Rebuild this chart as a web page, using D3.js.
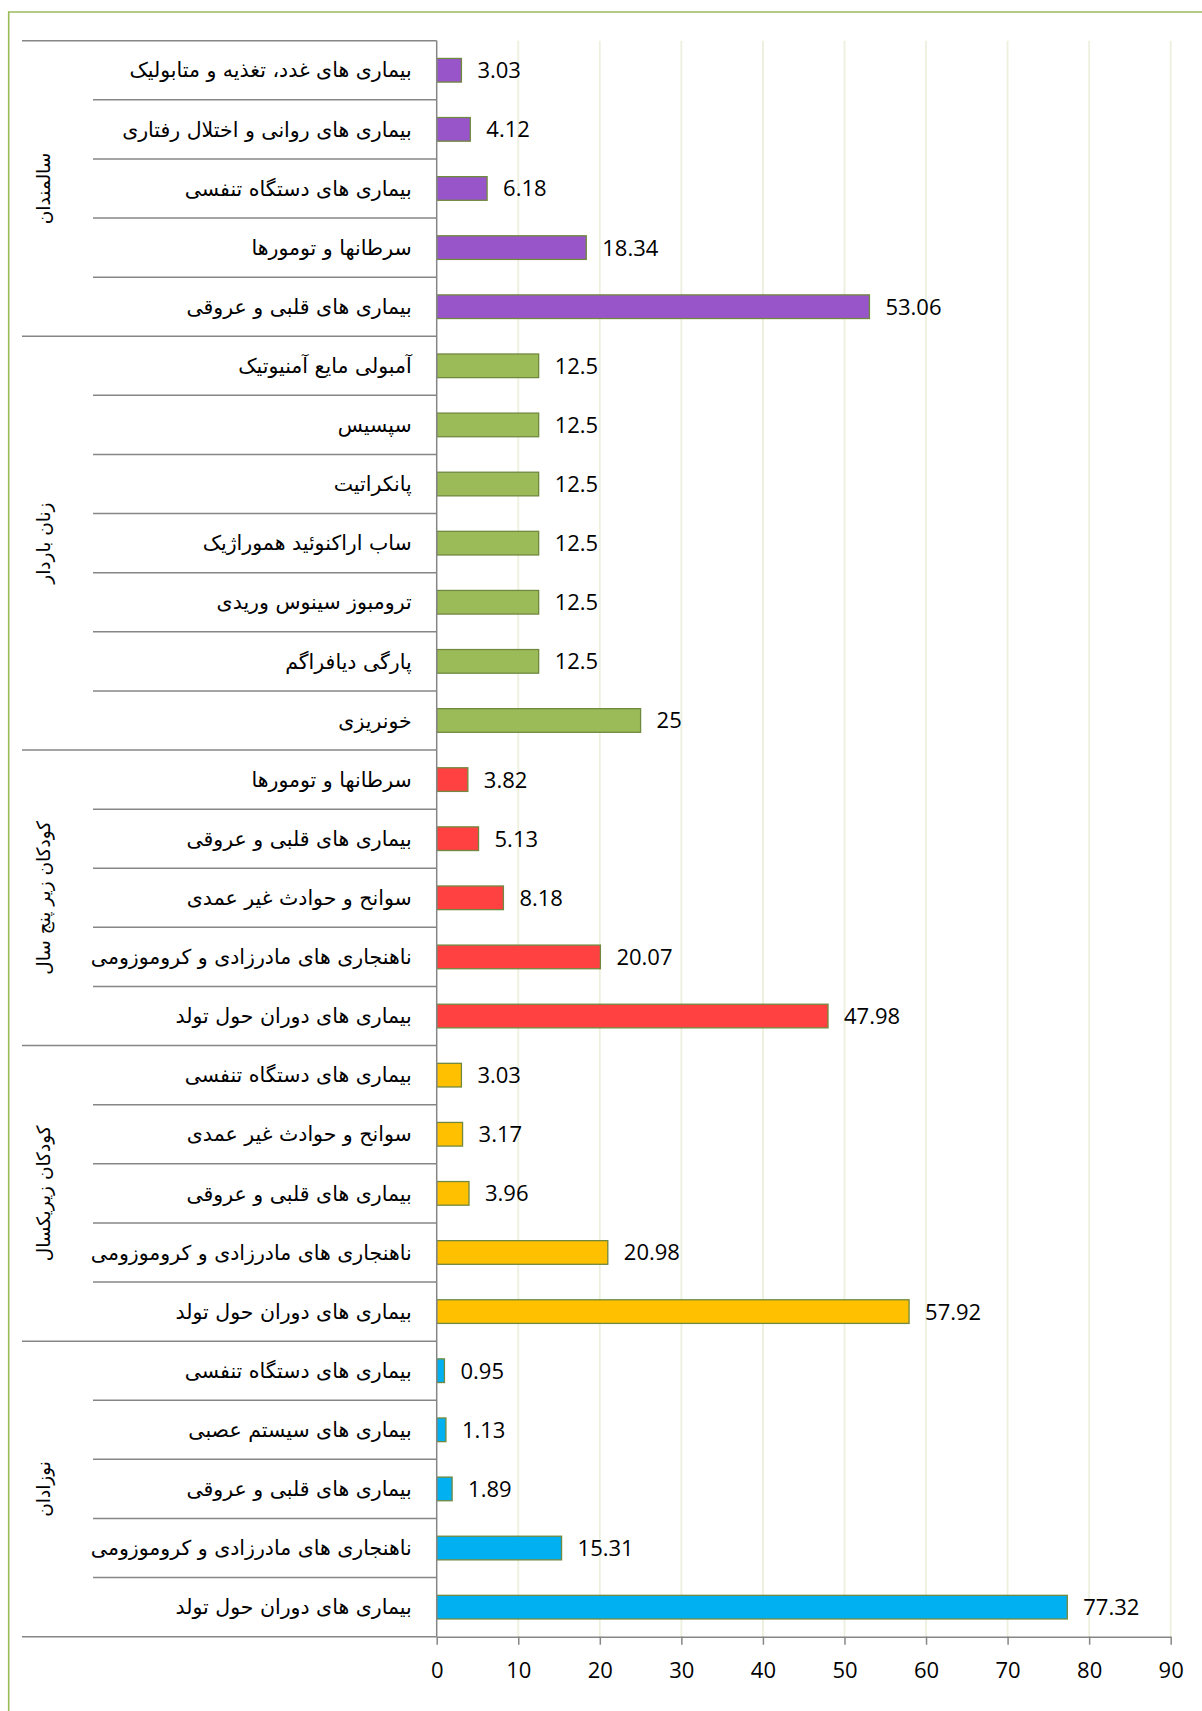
<!DOCTYPE html>
<html>
<head>
<meta charset="utf-8">
<script src="https://cdn.jsdelivr.net/npm/d3@7"></script>
<style>
  body { margin: 0; background: #fff; }
</style>
</head>
<body>
<div id="my_dataviz"></div>
<script>
// data, top to bottom
var groups = ["سالمندان", "زنان باردار", "کودکان زیر پنج سال", "کودکان زیریکسال", "نوزادان"];
var groupColors = ["#9755C9", "#9BBB59", "#FF4141", "#FFC000", "#00B0F0"];

var elderlyCauses = ["بیماری های غدد، تغذیه و متابولیک", "بیماری های روانی و اختلال رفتاری", "بیماری های دستگاه تنفسی", "سرطانها و تومورها", "بیماری های قلبی و عروقی"];
var elderlyValues = [3.03, 4.12, 6.18, 18.34, 53.06];

var pregnantCauses = ["آمبولی مایع آمنیوتیک", "سپسیس", "پانکراتیت", "ساب اراکنوئید هموراژیک", "ترومبوز سینوس وریدی", "پارگی دیافراگم", "خونریزی"];
var pregnantValues = [12.5, 12.5, 12.5, 12.5, 12.5, 12.5, 25];

var underFiveCauses = ["سرطانها و تومورها", "بیماری های قلبی و عروقی", "سوانح و حوادث غیر عمدی", "ناهنجاری های مادرزادی و کروموزومی", "بیماری های دوران حول تولد"];
var underFiveValues = [3.82, 5.13, 8.18, 20.07, 47.98];

var underOneCauses = ["بیماری های دستگاه تنفسی", "سوانح و حوادث غیر عمدی", "بیماری های قلبی و عروقی", "ناهنجاری های مادرزادی و کروموزومی", "بیماری های دوران حول تولد"];
var underOneValues = [3.03, 3.17, 3.96, 20.98, 57.92];

var neonateCauses = ["بیماری های دستگاه تنفسی", "بیماری های سیستم عصبی", "بیماری های قلبی و عروقی", "ناهنجاری های مادرزادی و کروموزومی", "بیماری های دوران حول تولد"];
var neonateValues = [0.95, 1.13, 1.89, 15.31, 77.32];

var xTicks = [0, 10, 20, 30, 40, 50, 60, 70, 80, 90];

// build rows
var causeLists = [elderlyCauses, pregnantCauses, underFiveCauses, underOneCauses, neonateCauses];
var valueLists = [elderlyValues, pregnantValues, underFiveValues, underOneValues, neonateValues];
var rows = [];
causeLists.forEach(function (list, g) {
    list.forEach(function (name, i) {
        rows.push({ key: g + "-" + i, group: g, name: name, value: valueLists[g][i] });
    });
});

var W = 1202, H = 1711;
var plotLeft = 436.7, plotRight = 1170.7, plotTop = 40.7, plotBottom = 1636.7;
var groupLineX = 22, itemLineX = 93;
var axisGrey = "#868686";

var svg = d3.select("#my_dataviz")
    .append("svg")
    .attr("width", W)
    .attr("height", H)
    .style("font-family", "'Open Sans', sans-serif");

svg.append("rect").attr("width", W).attr("height", H).attr("fill", "#fff");

// green frame (only top + left visible)
svg.append("path")
    .attr("d", "M8.7," + H + "V12H" + W)
    .attr("fill", "none")
    .attr("stroke", "#9BBB59")
    .attr("stroke-width", 1.6);

var x = d3.scaleLinear()
    .domain([0, 90])
    .range([plotLeft, plotRight]);

var y = d3.scaleBand()
    .domain(rows.map(function (d) { return d.key; }))
    .range([plotTop, plotBottom]);

// gridlines
svg.append("g")
    .selectAll("line")
    .data(xTicks.slice(1))
    .enter()
    .append("line")
    .attr("x1", function (d) { return x(d); })
    .attr("x2", function (d) { return x(d); })
    .attr("y1", plotTop)
    .attr("y2", plotBottom)
    .attr("stroke", "#ECF0DD")
    .attr("stroke-width", 1.8);

// bars
var barH = y.bandwidth() * 0.4;
svg.append("g")
    .selectAll("rect")
    .data(rows)
    .enter()
    .append("rect")
    .attr("x", x(0))
    .attr("y", function (d) { return y(d.key) + (y.bandwidth() - barH) / 2; })
    .attr("width", function (d) { return x(d.value) - x(0); })
    .attr("height", barH)
    .attr("fill", function (d) { return groupColors[d.group]; })
    .attr("stroke", "#71893F")
    .attr("stroke-width", 1.3);

// value labels
svg.append("g")
    .selectAll("text")
    .data(rows)
    .enter()
    .append("text")
    .attr("x", function (d) { return x(d.value) + 16; })
    .attr("y", function (d) { return y(d.key) + y.bandwidth() / 2; })
    .attr("dy", "0.36em")
    .attr("font-size", 22)
    .attr("fill", "#000")
    .text(function (d) { return String(d.value); });

// category axis: row separators
var cat = svg.append("g");
rows.forEach(function (d, i) {
    var first = i === 0 || rows[i - 1].group !== d.group;
    cat.append("line")
        .attr("x1", first ? groupLineX : itemLineX)
        .attr("x2", plotLeft)
        .attr("y1", y(d.key))
        .attr("y2", y(d.key))
        .attr("stroke", axisGrey)
        .attr("stroke-width", 1.5);
});

// cause names
cat.selectAll("text.cause")
    .data(rows)
    .enter()
    .append("text")
    .attr("class", "cause")
    .attr("x", plotLeft - 25)
    .attr("y", function (d) { return y(d.key) + y.bandwidth() / 2; })
    .attr("dy", "0.35em")
    .attr("text-anchor", "end")
    .attr("font-family", "'DejaVu Sans', serif")
    .attr("font-size", 20.5)
    .text(function (d) { return d.name; });

// group names (rotated)
groups.forEach(function (name, g) {
    var members = rows.filter(function (d) { return d.group === g; });
    var top = y(members[0].key);
    var bottom = y(members[members.length - 1].key) + y.bandwidth();
    var cy = (top + bottom) / 2;
    cat.append("text")
        .attr("transform", "translate(44," + cy + ") rotate(-90)")
        .attr("dy", "0.35em")
        .attr("text-anchor", "middle")
        .attr("font-family", "'DejaVu Sans', serif")
        .attr("font-size", 18.5)
        .text(name);
});

// vertical value axis line
svg.append("line")
    .attr("x1", plotLeft).attr("x2", plotLeft)
    .attr("y1", plotTop).attr("y2", plotBottom)
    .attr("stroke", axisGrey)
    .attr("stroke-width", 1.5);

// bottom line under the category part
svg.append("line")
    .attr("x1", groupLineX).attr("x2", plotLeft)
    .attr("y1", plotBottom).attr("y2", plotBottom)
    .attr("stroke", axisGrey)
    .attr("stroke-width", 1.5);

// X axis
var xAxis = svg.append("g")
    .attr("transform", "translate(0," + plotBottom + ")")
    .call(d3.axisBottom(x).tickValues(xTicks).tickSize(8).tickSizeOuter(0).tickPadding(18));
xAxis.select(".domain").attr("stroke", axisGrey).attr("stroke-width", 1.5);
xAxis.selectAll(".tick line").attr("stroke", axisGrey).attr("stroke-width", 1.5);
xAxis.selectAll(".tick text")
    .attr("font-family", "'Open Sans', sans-serif")
    .attr("font-size", 22)
    .attr("fill", "#000");
</script>
</body>
</html>
